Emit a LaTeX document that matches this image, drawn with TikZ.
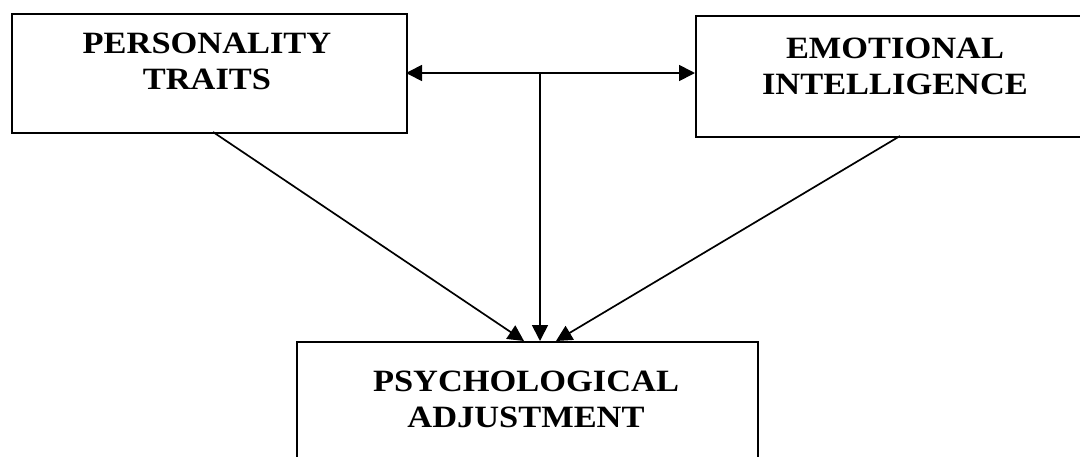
\documentclass[tikz,border=0pt]{standalone}
\usepackage{fontspec}
\setmainfont{Liberation Serif}
\newfontfamily\boxfont{Liberation Serif}[FakeStretch=1.11]
\usetikzlibrary{arrows.meta}
\begin{document}
\begin{tikzpicture}[x=1pt,y=-1pt,
  box/.style={draw, line width=2pt, rectangle, inner sep=0pt, anchor=north west},
  lbl/.style={font=\boxfont\bfseries\fontsize{31}{36}\selectfont, align=center, inner sep=0pt, anchor=base},
  conn/.style={line width=1.7pt, -{Triangle[length=16pt,width=16pt]}},
  dconn/.style={line width=1.7pt, {Triangle[length=16pt,width=16pt]}-{Triangle[length=16pt,width=16pt]}}]
\useasboundingbox (0,0) rectangle (1080,456);
\clip (0,0) rectangle (1080,456);
\fill[white] (0,0) rectangle (1080,456);
% boxes
\node[box, minimum width=395pt, minimum height=119pt] (pt) at (11,13) {};
\node[box, minimum width=400pt, minimum height=121pt] (ei) at (695,15) {};
\node[box, minimum width=461pt, minimum height=140pt] (pa) at (296,341) {};
% labels
\node[lbl] (ptt) at (207,89) {PERSONALITY\\TRAITS};
\node[lbl] (eit) at (895,94) {EMOTIONAL\\INTELLIGENCE};
\node[lbl] (pat) at (526,427) {PSYCHOLOGICAL\\ADJUSTMENT};
% connectors
\coordinate (ptr) at (406,73);
\coordinate (eil) at (695,73);
\coordinate (j) at (540,73);
\coordinate (ptb) at (213,132);
\coordinate (eib) at (900,136);
\coordinate (pal) at (524,341);
\coordinate (pam) at (540,341);
\coordinate (par) at (556,341);
\draw[dconn] (ptr) -- (eil);
\draw[conn] (j) -- (pam);
\draw[conn] (ptb) -- (pal);
\draw[conn] (eib) -- (par);
\end{tikzpicture}
\end{document}
